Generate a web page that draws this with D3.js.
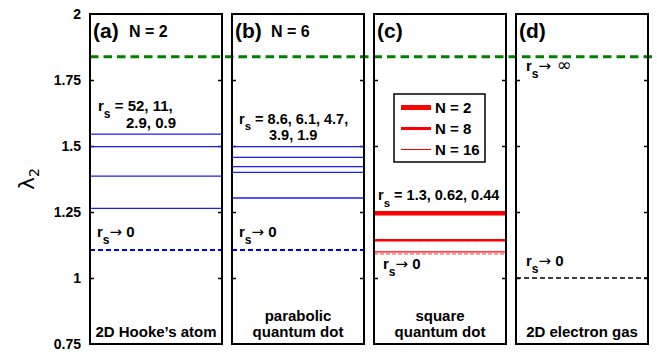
<!DOCTYPE html>
<html><head><meta charset="utf-8">
<script src="https://cdn.jsdelivr.net/npm/d3@7"></script>
<style>
body{margin:0;background:#fff;}
text{font-family:"Liberation Sans",Arial,Helvetica,sans-serif;font-weight:bold;fill:#000;}
</style></head>
<body><svg id="c" width="657" height="353"></svg>
<script>
// ---- data ----
const panels = ["a","b","c","d"];
const panelTags = ["(a)","(b)","(c)","(d)"];
const panelN = ["N = 2","N = 6","",""];
const panelNames = [["2D Hooke\u2019s atom"],["parabolic","quantum dot"],["square","quantum dot"],["2D electron gas"]];
const yTicks = [0.75, 1, 1.25, 1.5, 1.75, 2];
const strongLimit = 1.838;            // green dashed, r_s -> infinity
const hookeValues = [1.545, 1.498, 1.386, 1.264];
const hookeLimit0 = 1.106;
const parabolicValues = [1.498, 1.457, 1.422, 1.400, 1.303];
const parabolicLimit0 = 1.106;
const squareSeries = ["N = 2","N = 8","N = 16"];
const squareValues = [1.245, 1.143, 1.099];
const squareLimit0 = 1.095;
const gasLimit0 = 1.0;

// ---- layout ----
const svg = d3.select("#c");
const y = d3.scaleLinear().domain([0.75, 2]).range([344, 14]);
const x = d3.scaleBand().domain(panels).range([90, 648]).paddingInner(0.0704).paddingOuter(0);
const bw = x.bandwidth();

// y axis label
svg.append("text").attr("transform","translate(34,179) rotate(-90)")
  .attr("text-anchor","middle").style("font-weight","normal").style("font-size","22px")
  .style("font-family","'DejaVu Sans',sans-serif")
  .text("\u03bb").append("tspan").attr("dy",5).style("font-size","14px").text("2");

// y tick labels (only first panel)
svg.append("g").attr("transform",`translate(${x("a")},0)`)
  .call(d3.axisLeft(y).tickValues(yTicks).tickSize(0).tickPadding(9).tickFormat(d3.format("")))
  .call(g=>g.select(".domain").remove())
  .call(g=>g.selectAll("text").style("font-size","14px").style("font-family","'Liberation Sans',Arial,sans-serif").style("font-weight","bold"));

// panels: ticks
panels.forEach((p,i)=>{
  const g = svg.append("g").attr("transform",`translate(${x(p)},0)`);
  g.append("g").call(d3.axisRight(y).tickValues(yTicks.slice(1,-1)).tickSize(4).tickFormat(""))
    .call(a=>a.select(".domain").remove()).call(a=>a.selectAll("line").attr("stroke","#000").attr("stroke-width",1.5));
  g.append("g").attr("transform",`translate(${bw},0)`).call(d3.axisLeft(y).tickValues(yTicks.slice(1,-1)).tickSize(4).tickFormat(""))
    .call(a=>a.select(".domain").remove()).call(a=>a.selectAll("line").attr("stroke","#000").attr("stroke-width",1.5));
});

function hline(p, v, color, w, dash){
  const l = svg.append("line").attr("x1",x(p)).attr("x2",x(p)+bw).attr("y1",y(v)).attr("y2",y(v))
    .attr("stroke",color).attr("stroke-width",w);
  if(dash) l.attr("stroke-dasharray",dash);
  return l;
}
// (a)
hookeValues.forEach(v=>hline("a",v,"#1a1aff",1.3));
hline("a",hookeLimit0,"#0000ff",2,"5,3");
// (b)
parabolicValues.forEach(v=>hline("b",v,"#1a1aff",1.3));
hline("b",parabolicLimit0,"#0000ff",2,"5,3");
// (c)
const redWidths = [4.5, 2.6, 1.2];
hline("c",squareLimit0,"#ff8a8a",1.8,"4,2").attr("transform","translate(0,1)");
squareValues.forEach((v,i)=>hline("c",v,"#ff0000",redWidths[i]));
// (d)
hline("d",gasLimit0,"#000",1.6,"5,3");

// green dashed across all
svg.append("line").attr("x1",x("a")).attr("x2",657).attr("y1",y(strongLimit)).attr("y2",y(strongLimit))
  .attr("stroke","#008000").attr("stroke-width",3).attr("stroke-dasharray","8.5,5");

// frames
panels.forEach(p=>{
  svg.append("rect").attr("x",x(p)).attr("y",y(2)).attr("width",bw).attr("height",y(0.75)-y(2))
    .attr("fill","none").attr("stroke","#000").attr("stroke-width",2);
});

// panel tags
panels.forEach((p,i)=>{
  svg.append("text").attr("x",x(p)+3).attr("y",38).style("font-size","21px").text(panelTags[i]);
  if(panelN[i]) svg.append("text").attr("x",x(p)+39).attr("y",37).style("font-size","16px").text(panelN[i]);
  const names = panelNames[i];
  names.forEach((t,j)=>{
    svg.append("text").attr("x",x(p)+bw/2).attr("y",337 - (names.length-1-j)*16)
      .attr("text-anchor","middle").style("font-size","15px").text(t);
  });
});

// r_s labels
function rsLabel(px, py, rest, size, sub){
  size = size||15; sub = sub||7;
  const t = svg.append("text").attr("x",px).attr("y",py).style("font-size",size+"px");
  t.append("tspan").text("r");
  t.append("tspan").attr("dy",sub).style("font-size",(size-3)+"px").text("s");
  t.append("tspan").attr("dy",-sub).text(rest);
  return t;
}
function arrowLabel(px, py, tail){
  const t = svg.append("text").attr("x",px).attr("y",py).style("font-size","15px");
  t.append("tspan").text("r");
  t.append("tspan").attr("dy",7).style("font-size","12px").text("s");
  t.append("tspan").attr("dy",-7).style("font-weight","normal").style("font-family","'DejaVu Sans',sans-serif").style("font-size","15px").text("\u2192");
  if(tail==="inf") t.append("tspan").style("font-weight","normal").style("font-family","'DejaVu Sans',sans-serif").style("font-size","18px").text(" \u221e");
  else t.append("tspan").text(" "+tail);
}
rsLabel(x("a")+8, 111, " = 52, 11,");
svg.append("text").attr("x",x("a")+36).attr("y",128).style("font-size","15px").text("2.9, 0.9");
rsLabel(x("b")+7, 124, " = 8.6, 6.1, 4.7,", 14.5, 6);
svg.append("text").attr("x",x("b")+37).attr("y",140).style("font-size","14.5px").text("3.9, 1.9");
rsLabel(x("c")+4, 200, " = 1.3, 0.62, 0.44", 14.5);
arrowLabel(x("a")+7, 237, "0");
arrowLabel(x("b")+7, 237, "0");
arrowLabel(x("c")+9, 269, "0");
arrowLabel(x("d")+10, 266, "0");
arrowLabel(x("d")+10, 71, "inf");

// legend in (c)
const lg = svg.append("g").attr("transform","translate(394,94)");
lg.append("rect").attr("width",91).attr("height",68).attr("fill","#fff").attr("stroke","#000").attr("stroke-width",1.5);
squareSeries.forEach((s,i)=>{
  const yy = 13.5 + i*21;
  lg.append("line").attr("x1",7).attr("x2",37).attr("y1",yy).attr("y2",yy).attr("stroke","#ff0000").attr("stroke-width",Math.round(redWidths[i]));
  lg.append("text").attr("x",41).attr("y",yy+5).style("font-size","15px").text(s);
});
</script></body></html>
